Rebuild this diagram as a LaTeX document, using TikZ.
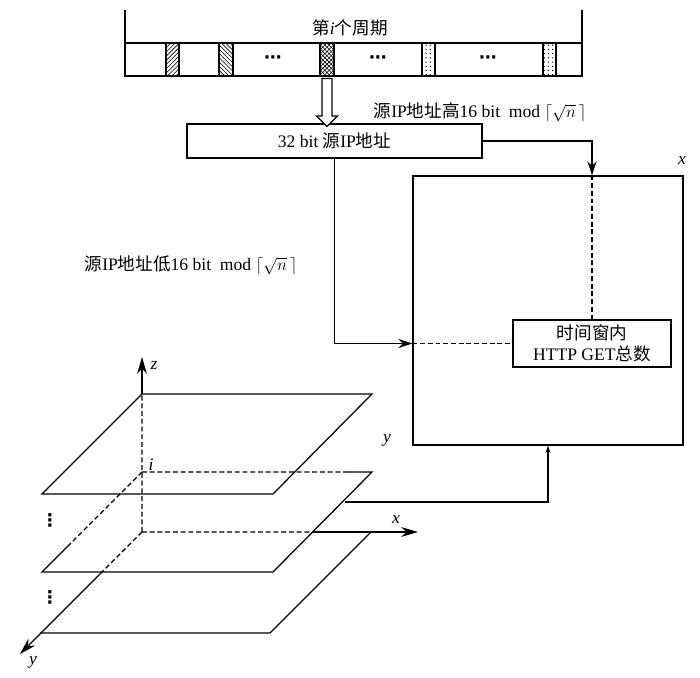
\documentclass[tikz,border=0pt]{standalone}
\usepackage{fontspec}
\setmainfont{Liberation Serif}
\newfontfamily\cjk{Noto Sans CJK SC}
\newfontfamily\sym{DejaVu Sans}
\newcommand{\zh}[1]{{\cjk #1}}
\usetikzlibrary{arrows.meta,patterns,shapes.arrows,calc}

\begin{document}
\begin{tikzpicture}
[x=0.025cm,y=-0.025cm,line width=0.9pt,>={Stealth[length=10pt,width=6.5pt]},
 every node/.style={font=\fontsize{12.5}{15}\selectfont},
 box/.style={draw,rectangle,inner sep=0pt},
 tag/.style={inner sep=1pt},
 hidden/.style={dash pattern=on 3.5pt off 2pt},
 axis/.style={-{Stealth[length=12pt,width=7pt]}}]
\useasboundingbox (0,0) rectangle (700,678);

% the i-th period
\draw (125,10) -- (125,76) (582,10) -- (582,76);
\node[box,minimum width=11.425cm,minimum height=0.825cm] (bar) at (353.5,59.5) {};
\node[tag] (period) at (350,28) {\zh{第}\textit{i}\zh{个周期}};
\draw[pattern=north east lines] (166,43) rectangle (179,76);
\draw[pattern=north west lines] (219,43) rectangle (233,76);
\draw[pattern=crosshatch] (320,43) rectangle (334,76);
\draw[pattern=dots] (422,43) rectangle (435,76);
\draw[pattern=dots] (543,43) rectangle (556,76);
\node[tag] (d1) at (273,60) {\sym\bfseries ⋯};
\node[tag] (d2) at (378,60) {\sym\bfseries ⋯};
\node[tag] (d3) at (488,60) {\sym\bfseries ⋯};

% source address
\node[box,minimum width=7.375cm,minimum height=0.85cm] (addr) at (334.5,141) {32 bit \zh{源}IP\zh{地址}};
\node[draw,fill=white,single arrow,shape border rotate=270,inner sep=0.11cm,
  minimum width=0.5cm,minimum height=1.2cm,single arrow head extend=0.14cm] (get) at (327,100) {};

% window
\node[box,minimum width=6.75cm,minimum height=6.725cm] (win) at (548,310.5) {};
\node[box,minimum width=3.95cm,minimum height=1.175cm,align=center] (cnt) at (592,343.5)
  {\zh{时间窗内}\\HTTP GET\zh{总数}};
\node[tag] (wx) at (682,160) {\textit{x}};

\node[tag] (hi) at (480,112) {\zh{源}IP\zh{地址高}16 bit\ \ mod $\left\lceil\sqrt{n}\,\right\rceil$};
\node[tag] (lo) at (191,265) {\zh{源}IP\zh{地址低}16 bit\ \ mod $\left\lceil\sqrt{n}\,\right\rceil$};

\coordinate (top) at (cnt.north |- win.north);
\coordinate (lft) at (win.west |- cnt.west);
\draw[->] (addr.east) -| (top);
\draw[hidden] (top) -- (cnt.north);
\draw[->] (addr.south) |- (lft);
\draw[hidden] (lft) -- (cnt.west);

% stacked planes
\draw (142,394) -- (372,394) -- (273,494) -- (42,494) -- cycle;
\draw (345,472) -- (372,472) -- (273,572) -- (42,572) -- (70,544);
\draw[hidden] (142,472) -- (345,472) (142,472) -- (70,544);
\draw (371,532) -- (270,633) -- (40,633);

% axes
\coordinate (o) at (142,532);
\draw[hidden] (o) -- (313,532) (o) -- (142,394) (o) -- (100,574);
\draw[axis] (313,532) -- (418,532);
\draw[axis] (142,394) -- (142,357);
\draw[axis] (100,574) -- (20,654);
\node[tag] (lz) at (154,365) {\textit{z}};
\node[tag] (li) at (151,465) {\textit{i}};
\node[tag] (ly) at (387,440) {\textit{y}};
\node[tag] (lx) at (396,519) {\textit{x}};
\node[tag] (ly2) at (33,662) {\textit{y}};
\node[tag] (v1) at (50,520) {\sym\bfseries ⋮};
\node[tag] (v2) at (50,597) {\sym\bfseries ⋮};

\coordinate (mid) at (345,502);
\draw[-{Stealth[length=5pt,width=3.5pt]}] (mid) -| (win.south);
\end{tikzpicture}
\end{document}
